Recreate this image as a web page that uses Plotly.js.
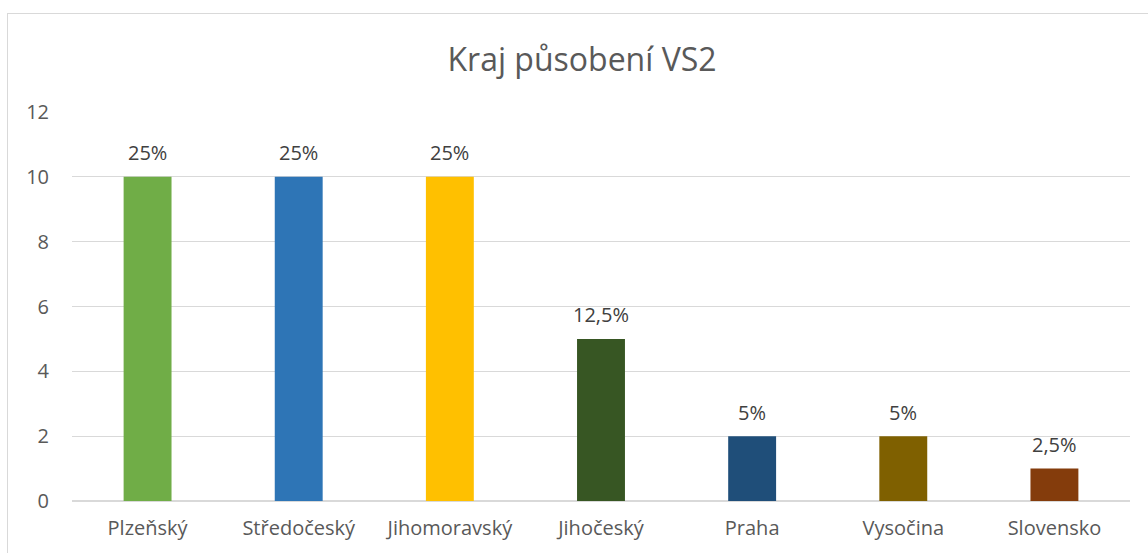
<!DOCTYPE html>
<html><head><meta charset="utf-8">
<script src="https://cdn.plot.ly/plotly-3.0.1.min.js"></script>
<style>
html,body{margin:0;padding:0;background:#fff;overflow:hidden;}
#chart{position:absolute;left:0;top:0;width:1148px;height:553px;}
#frame{position:absolute;left:7px;top:13px;width:1160px;height:600px;border:1px solid #d9d9d9;pointer-events:none;}
</style></head>
<body>
<div id="chart"></div>
<div id="frame"></div>
<script>
const categories = ["Plzeňský","Středočeský","Jihomoravský","Jihočeský","Praha","Vysočina","Slovensko"];
const counts = [10,10,10,5,2,2,1];
const percentLabels = ["25%","25%","25%","12,5%","5%","5%","2,5%"];
const barColors = ["#70AD47","#2E75B6","#FFC000","#375623","#1F4E79","#7F6000","#843C0C"];
const yTicks = [0,2,4,6,8,10,12];

const font = "'Open Sans', 'Noto Sans', sans-serif";
const annotations = categories.map((c,i)=>({
  x:c, y:counts[i], xref:'x', yref:'y', text:percentLabels[i], showarrow:false,
  yanchor:'middle', yshift:24, font:{family:font, size:20, color:'#404040'}
}));
Plotly.newPlot('chart', [{
  type:'bar', x:categories, y:counts,
  marker:{color:barColors}, hoverinfo:'none'
}], {
  width:1148, height:553,
  margin:{l:72, r:18, t:112, b:52},
  paper_bgcolor:'#fff', plot_bgcolor:'#fff',
  bargap:0.683,
  showlegend:false,
  annotations:annotations,
  title:{text:'Kraj působení VS2', font:{family:font, size:32, color:'#595959'}, x:0.507, xanchor:'center', y:0.892, yanchor:'middle'},
  xaxis:{tickfont:{family:font, size:20, color:'#595959'}, showline:false, ticks:'', ticklabelstandoff:13, fixedrange:true},
  yaxis:{range:[0,12], tickvals:yTicks, ticktext:yTicks.map(String), tickfont:{family:font, size:20, color:'#595959'},
    showgrid:true, gridcolor:'#d9d9d9', gridwidth:1.3, zeroline:true, zerolinecolor:'#d9d9d9', zerolinewidth:1.3,
    ticks:'', ticklabelstandoff:22, fixedrange:true}
}, {staticPlot:true});
</script>
</body></html>
